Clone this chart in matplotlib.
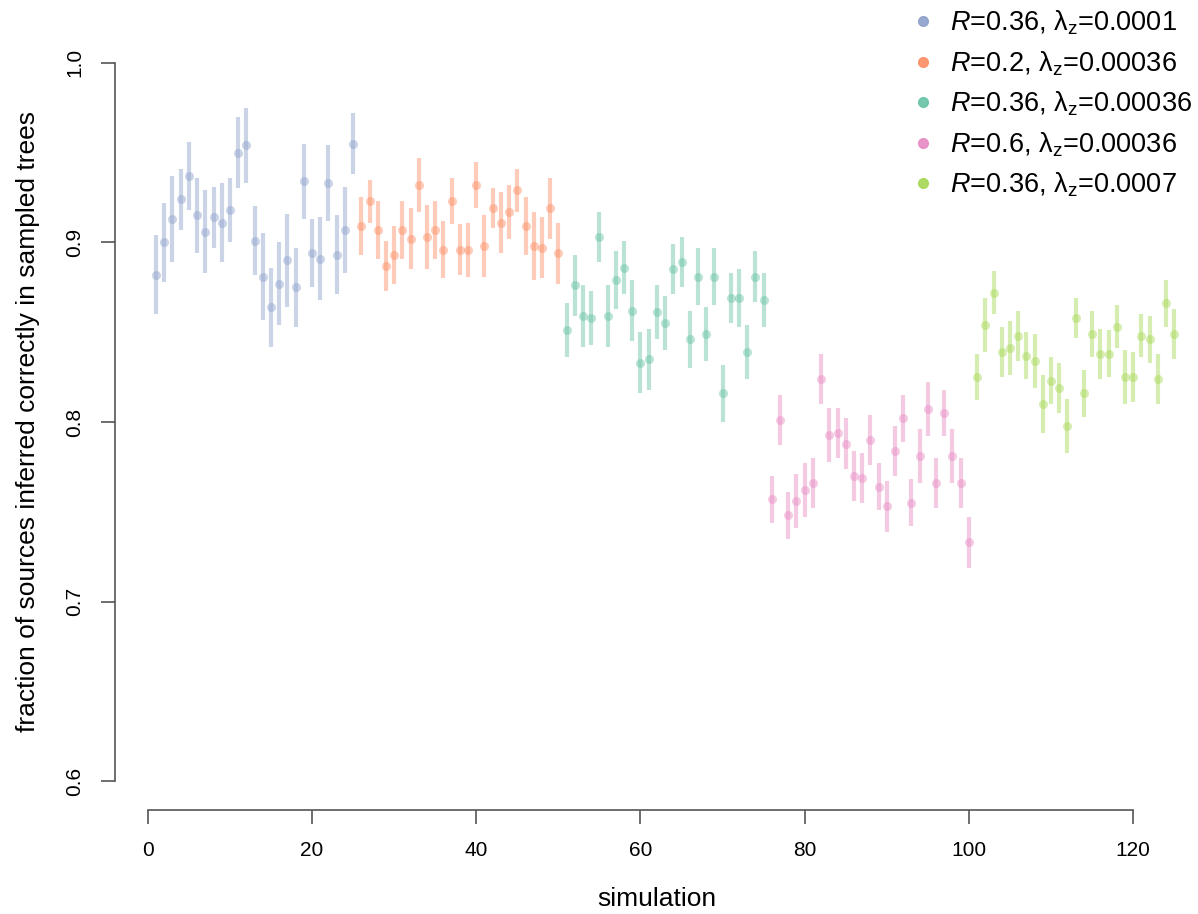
import numpy as np
import matplotlib.pyplot as plt

plt.rcParams['font.family'] = ['Liberation Sans', 'DejaVu Sans']
plt.rcParams['mathtext.fontset'] = 'custom'
plt.rcParams['mathtext.rm'] = 'Liberation Sans'
plt.rcParams['mathtext.it'] = 'Liberation Sans:italic'

labels = [r'$\mathit{R}$=0.36, $\mathrm{λ}_\mathrm{z}$=0.0001',
          r'$\mathit{R}$=0.2, $\mathrm{λ}_\mathrm{z}$=0.00036',
          r'$\mathit{R}$=0.36, $\mathrm{λ}_\mathrm{z}$=0.00036',
          r'$\mathit{R}$=0.6, $\mathrm{λ}_\mathrm{z}$=0.00036',
          r'$\mathit{R}$=0.36, $\mathrm{λ}_\mathrm{z}$=0.0007']
colors = ['#8da0cb', '#fc8d62', '#66c2a5', '#e78ac3', '#a6d854']

# fraction correct per simulation, 25 simulations per setting
frac_1 = [0.882, 0.900, 0.913, 0.924, 0.937, 0.915, 0.906, 0.914, 0.911, 0.918,
          0.950, 0.954, 0.901, 0.881, 0.864, 0.877, 0.890, 0.875, 0.934, 0.894,
          0.891, 0.933, 0.893, 0.907, 0.955]
err_1 = [0.022, 0.022, 0.024, 0.017, 0.019, 0.021, 0.023, 0.017, 0.022, 0.018,
         0.020, 0.021, 0.019, 0.024, 0.022, 0.023, 0.026, 0.022, 0.021, 0.019,
         0.023, 0.021, 0.022, 0.024, 0.017]
frac_2 = [0.909, 0.923, 0.907, 0.887, 0.893, 0.907, 0.902, 0.932, 0.903, 0.907,
          0.896, 0.923, 0.896, 0.896, 0.932, 0.898, 0.919, 0.911, 0.917, 0.929,
          0.909, 0.898, 0.897, 0.919, 0.894]
err_2 = [0.016, 0.012, 0.016, 0.014, 0.016, 0.016, 0.017, 0.015, 0.018, 0.016,
         0.016, 0.013, 0.014, 0.015, 0.013, 0.017, 0.011, 0.017, 0.015, 0.012,
         0.016, 0.019, 0.017, 0.017, 0.017]
frac_3 = [0.851, 0.876, 0.859, 0.858, 0.903, 0.859, 0.879, 0.886, 0.862, 0.833,
          0.835, 0.861, 0.855, 0.885, 0.889, 0.846, 0.881, 0.849, 0.881, 0.816,
          0.869, 0.869, 0.839, 0.881, 0.868]
err_3 = [0.015, 0.017, 0.017, 0.015, 0.014, 0.017, 0.016, 0.015, 0.017, 0.017,
         0.017, 0.015, 0.015, 0.014, 0.014, 0.016, 0.016, 0.015, 0.016, 0.016,
         0.014, 0.016, 0.015, 0.014, 0.015]
frac_4 = [0.757, 0.801, 0.748, 0.756, 0.762, 0.766, 0.824, 0.793, 0.794, 0.788,
          0.770, 0.769, 0.790, 0.764, 0.753, 0.784, 0.802, 0.755, 0.781, 0.807,
          0.766, 0.805, 0.781, 0.766, 0.733]
err_4 = [0.013, 0.014, 0.013, 0.015, 0.015, 0.014, 0.014, 0.015, 0.014, 0.014,
         0.014, 0.014, 0.014, 0.013, 0.014, 0.014, 0.013, 0.013, 0.015, 0.015,
         0.014, 0.013, 0.015, 0.014, 0.014]
frac_5 = [0.825, 0.854, 0.872, 0.839, 0.841, 0.848, 0.837, 0.834, 0.810, 0.823,
          0.819, 0.798, 0.858, 0.816, 0.849, 0.838, 0.838, 0.853, 0.825, 0.825,
          0.848, 0.846, 0.824, 0.866, 0.849]
err_5 = [0.013, 0.015, 0.012, 0.014, 0.015, 0.014, 0.013, 0.015, 0.016, 0.013,
         0.014, 0.015, 0.011, 0.013, 0.013, 0.014, 0.013, 0.012, 0.015, 0.014,
         0.012, 0.013, 0.014, 0.013, 0.014]

fracs = [frac_1, frac_2, frac_3, frac_4, frac_5]
errs = [err_1, err_2, err_3, err_4, err_5]

fig = plt.figure(figsize=(11.98, 9.14), dpi=100)
ax = fig.add_axes([115 / 1198, 104 / 914, (1198 - 115) / 1198, 776 / 914])

start = 1
for f, e, c, lab in zip(fracs, errs, colors, labels):
    x = np.arange(start, start + len(f))
    ax.errorbar(x, f, yerr=e, fmt='o', color=c, alpha=0.45, ms=6.5, elinewidth=3,
                capsize=0, markeredgewidth=0)
    ax.plot([], [], 'o', color=c, alpha=0.9, ms=7, label=lab)
    start += len(f)

ax.set_xlim(-4, 127.9)
ax.set_ylim(0.584, 1.016)
ax.set_xticks(np.arange(0, 121, 20))
ax.set_yticks([0.6, 0.7, 0.8, 0.9, 1.0])
ax.set_yticklabels(['0.6', '0.7', '0.8', '0.9', '1.0'], rotation=90, va='center')
for s in ['top', 'right']:
    ax.spines[s].set_visible(False)
ax.spines['bottom'].set_bounds(0, 120)
ax.spines['left'].set_bounds(0.6, 1.0)
for s in ['bottom', 'left']:
    ax.spines[s].set_color('#555555')
    ax.spines[s].set_linewidth(1.2)
ax.tick_params(labelsize=15, length=10, width=1.2, color='#555555', pad=12)
ax.set_xlabel('simulation', fontsize=19, labelpad=20)
ax.set_ylabel('fraction of sources inferred correctly in sampled trees', fontsize=19, labelpad=18)

ax.legend(loc='upper left', bbox_to_anchor=(896 / 1198, 1.008), bbox_transform=fig.transFigure,
          frameon=False, fontsize=19.5, handlelength=0.8, handletextpad=0.6,
          labelspacing=0.44, borderaxespad=0.2)

plt.savefig('out.png', dpi=100)
